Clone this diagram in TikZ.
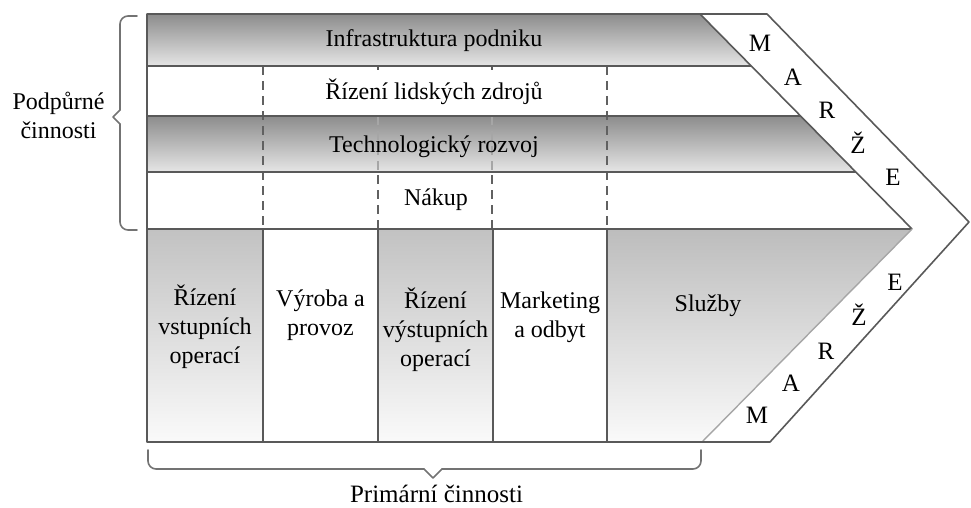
\documentclass[tikz,border=0pt]{standalone}
\usepackage{fontspec}
\setmainfont{Liberation Serif}
\begin{document}
\begin{tikzpicture}[x=1pt,y=-1pt,line join=round,
  frameline/.style={draw=black!65,line width=1.6pt},
  dashline/.style={draw=black!62,line width=1.5pt,dash pattern=on 9pt off 6pt},
  bracestyle/.style={draw=black!55,line width=1.6pt,line cap=round},
  supshade/.style={top color=black!45,bottom color=black!10},
  colshade/.style={top color=black!24,bottom color=black!2},
  lbl/.style={font=\fontsize{24}{29}\selectfont,inner sep=0pt,align=center},
  lblb/.style={lbl,anchor=base},
  mletter/.style={font=\fontsize{25}{29}\selectfont,inner sep=0pt}]
\useasboundingbox (0,0) rectangle (971,508);

% key coordinates
\coordinate (TL) at (147,14);
\coordinate (TI) at (700,14);
\coordinate (TO) at (767,14);
\coordinate (TIP) at (969,222);
\coordinate (MI) at (912,229);
\coordinate (BO) at (770,442);
\coordinate (BI) at (702,442);
\coordinate (BL) at (147,442);

% shaded support rows
\path[supshade] (147,14) -- (700,14) -- (751,66) -- (147,66) -- cycle;
\path[supshade] (147,116) -- (801,116) -- (856,172) -- (147,172) -- cycle;
% shaded primary columns
\path[colshade] (147,229) rectangle (263,442);
\path[colshade] (378,229) rectangle (493,442);
\path[colshade,top color=black!26] (607,229) -- (MI) -- (BI) -- (607,442) -- cycle;

% dashed separators in support rows
\draw[dashline] (263,66) -- (263,229);
\draw[dashline] (607,66) -- (607,229);
\draw[dashline,draw=black!35] (378,116) -- (378,172);
\draw[dashline,draw=black!35] (492,116) -- (492,172);
\draw[dashline] (378,175) -- (378,229);
\draw[dashline] (492,175) -- (492,229);
\draw[frameline,line width=1.2pt] (378,66) -- (378,70);
\draw[frameline,line width=1.2pt] (492,66) -- (492,70);

% horizontal lines
\draw[frameline] (147,66) -- (751,66);
\draw[frameline] (147,116) -- (801,116);
\draw[frameline] (147,172) -- (856,172);
\draw[frameline] (147,229) -- (MI);
% primary column separators
\draw[frameline] (263,229) -- (263,442);
\draw[frameline] (378,229) -- (378,442);
\draw[frameline] (493,229) -- (493,442);
\draw[frameline] (607,229) -- (607,442);
% inner diagonals
\draw[frameline] (TI) -- (MI);
\draw[draw=black!35,line width=1.4pt] (MI) -- (BI);
% outer frame
\draw[frameline] (TL) -- (TO) -- (TIP) -- (BO) -- (BL) -- cycle;

% texts of support activities
\node[lblb] (infra) at (434,47) {Infrastruktura podniku};
\node[lblb] (hr) at (434,100) {Řízení lidských zdrojů};
\node[lblb] (tech) at (434,153) {Technologický rozvoj};
\node[lblb] (nakup) at (436,205) {Nákup};

% texts of primary activities
\node[lbl] (c1) at (205,328.2) {Řízení\strut\\vstupních\strut\\operací\strut};
\node[lbl] (c2) at (320.5,314.7) {Výroba a\strut\\provoz\strut};
\node[lbl] (c3) at (435.5,331.2) {Řízení\strut\\výstupních\strut\\operací\strut};
\node[lbl] (c4) at (550,316.7) {Marketing\strut\\a odbyt\strut};
\node[lblb] (sluzby) at (708,311) {Služby};

% margin letters
\node[mletter] (m1) at (760,43) {M};
\node[mletter] (a1) at (793,77) {A};
\node[mletter] (r1) at (827,110) {R};
\node[mletter] (z1) at (858,143) {Ž};
\node[mletter] (e1) at (893,177) {E};
\node[mletter] (e2) at (895,282) {E};
\node[mletter] (z2) at (859,315) {Ž};
\node[mletter] (r2) at (826,351) {R};
\node[mletter] (a2) at (791,383) {A};
\node[mletter] (m2) at (757,415) {M};

% left brace
\coordinate (lbtop) at (137,16);
\coordinate (lbtip) at (113,117);
\coordinate (lbbot) at (137,230);
\draw[bracestyle,rounded corners=8pt] (lbtop) -- (120,16) -- (120,110);
\draw[bracestyle] (120,110) -- (lbtip) -- (120,124);
\draw[bracestyle,rounded corners=8pt] (120,124) -- (120,230) -- (lbbot);
\node[lbl] (podp) at (58.5,117.8) {Podpůrné\strut\\činnosti\strut};

% bottom brace
\coordinate (bbl) at (148,450);
\coordinate (bbtip) at (433,478);
\coordinate (bbr) at (701,450);
\draw[bracestyle,rounded corners=8pt] (bbl) -- (148,469) -- (424,469);
\draw[bracestyle] (424,469) -- (bbtip) -- (442,469);
\draw[bracestyle,rounded corners=8pt] (442,469) -- (701,469) -- (bbr);
\node[lblb,font=\fontsize{25}{29}\selectfont] (prim) at (436.5,502) {Primární činnosti};
\end{tikzpicture}
\end{document}
